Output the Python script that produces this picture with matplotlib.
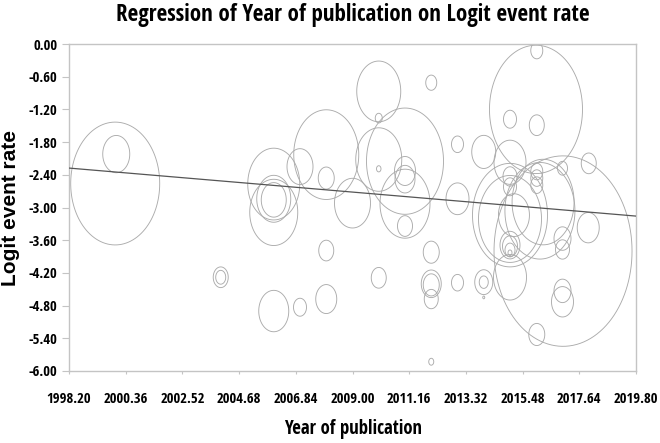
import os
import numpy as np
import matplotlib
matplotlib.use("Agg")
import matplotlib.pyplot as plt
from matplotlib.path import Path
from matplotlib.markers import MarkerStyle
from matplotlib import font_manager as fm
from matplotlib.textpath import TextToPath

# ---------------- data ----------------
years = [1999.96, 2000.00, 2003.98, 2003.98, 2006.00, 2006.00, 2006.00, 2006.00,
         2006.00, 2007.00, 2008.00, 2008.00, 2008.00, 2007.00, 2008.00, 2009.00,
         2010.00, 2010.00, 2010.00, 2010.00, 2011.00, 2011.00, 2011.00, 2011.00,
         2011.00, 2010.00, 2012.00, 2013.00, 2013.00, 2012.00, 2012.00, 2012.00,
         2012.00, 2013.00, 2012.00, 2014.00, 2014.00, 2014.00, 2014.00,
         2015.99, 2016.02, 2015.00, 2016.02, 2015.00, 2015.00, 2015.00, 2016.02,
         2016.02, 2016.02, 2017.00, 2018.00, 2017.98, 2017.02, 2015.00, 2015.00,
         2016.14, 2015.15, 2016.26, 2015.00, 2015.00, 2015.00, 2015.00, 2015.00,
         2017.00, 2017.00, 2017.00, 2017.00, 2016.02]
logit_rate = [-2.56, -2.02, -4.28, -4.28, -2.57, -3.09, -2.86, -2.84,
              -4.90, -4.83, -4.68, -3.79, -2.46, -2.25, -2.03, -2.92,
              -0.87, -1.36, -2.12, -2.29, -2.15, -2.33, -2.48, -2.93,
              -3.34, -4.29, -0.71, -1.84, -2.84, -3.82, -4.40, -4.42,
              -4.68, -4.38, -5.83, -1.98, -4.37, -4.37, -4.65,
              -1.20, -0.12, -1.38, -1.49, -2.17, -2.43, -2.62, -2.34,
              -2.46, -2.59, -2.28, -2.19, -3.37, -3.80, -3.14, -3.21,
              -3.06, -3.14, -2.90, -3.69, -3.71, -3.78, -3.83, -4.28,
              -3.57, -3.77, -4.53, -4.73, -5.33]
weights = [79.21, 7.29, 2.25, 1.00, 27.04, 23.04, 6.25, 11.56,
           9.00, 1.69, 4.41, 2.25, 2.56, 6.76, 42.25, 12.96,
           19.36, 0.49, 21.16, 0.20, 59.29, 4.41, 4.00, 25.00,
           2.25, 2.25, 1.21, 1.44, 5.29, 2.56, 4.00, 2.56,
           1.96, 1.44, 0.25, 5.76, 3.24, 0.81, 0.04,
           86.49, 1.44, 1.69, 2.25, 10.24, 1.96, 1.69, 1.44,
           1.44, 1.44, 1.00, 2.25, 4.84, 190.44, 56.25, 39.69,
           49.00, 9.61, 38.44, 4.00, 2.25, 1.00, 0.16, 10.89,
           2.89, 1.96, 2.89, 4.84, 2.56]

reg_intercept = 79.23
reg_slope = -0.04079

x_ticks = [1998.20, 2000.36, 2002.52, 2004.68, 2006.84, 2009.00,
           2011.16, 2013.32, 2015.48, 2017.64, 2019.80]
y_ticks = [0.00, -0.60, -1.20, -1.80, -2.40, -3.00, -3.60, -4.20, -4.80, -5.40, -6.00]

title = "Regression of Year of publication on Logit event rate"
x_label = "Year of publication"
y_label = "Logit event rate"

# ---------------- fonts ----------------
def find_condensed_bold():
    prefs = ["liberationsansnarrow-bold", "arialnarrow", "notosans-condensedbold",
             "opensans-condbold", "opensans_condensed-bold", "opensanscondensed-bold",
             "robotocondensed-bold", "roboto_condensed-bold"]
    files = {os.path.basename(f.fname).lower(): f.fname for f in fm.fontManager.ttflist}
    for p in prefs:
        for k, v in files.items():
            if k.startswith(p) and "italic" not in k:
                return v
    for k, v in files.items():
        if (("narrow" in k or "condensed" in k or "cond" in k) and "bold" in k
                and not any(b in k for b in ["italic", "oblique", "dejavu", "mono",
                                              "serif", "extra", "semi", "ultra"])):
            return v
    return None

cond_file = find_condensed_bold()
ttp = TextToPath()

def prop(size, fname=None, family=None):
    if fname:
        return fm.FontProperties(fname=fname, size=size)
    return fm.FontProperties(family=family or "Liberation Sans", weight="bold", size=size)

def fit(text, target_px, max_pt):
    p = prop(10, cond_file)
    w, h, d = ttp.get_text_width_height_descent(text, p, ismath=False)
    size = 10 * target_px / (w * 100 / 72)
    return prop(min(size, max_pt), cond_file)

tick_prop = fit("2004.68", 47, 10.5)
title_prop = fit(title, 475, 16.6)
xlab_prop = fit(x_label, 140, 13.5)
ylab_prop = prop(15, family="Liberation Sans")

# ---------------- figure ----------------
fig = plt.figure(figsize=(6.6, 4.43), dpi=100)
ax = fig.add_axes([69/660, 1-371/443, 567/660, 327/443])

# elliptical bubble marker (bubbles are stretched vertically in the reference)
t = np.linspace(0, 2*np.pi, 120)
verts = np.column_stack([np.cos(t)/1.38, np.sin(t)])
ell = MarkerStyle(Path(verts, closed=True))

sizes = np.array(weights) * 100 * (1.38*0.72)**2
ax.scatter(years, logit_rate, s=sizes, marker=ell, facecolors="none",
           edgecolors="#ababab", linewidths=0.65, zorder=2)

xl = np.array([x_ticks[0], x_ticks[-1]])
ax.plot(xl, reg_intercept + reg_slope*xl, color="#555555", lw=0.9, zorder=3)

ax.set_xlim(x_ticks[0], x_ticks[-1])
ax.set_ylim(y_ticks[-1], y_ticks[0])
ax.set_xticks(x_ticks)
ax.set_yticks(y_ticks)
ax.set_xticklabels([f"{v:.2f}" for v in x_ticks])
ax.set_yticklabels([f"{v:.2f}" for v in y_ticks])

for sp in ax.spines.values():
    sp.set_color("#c4c4c4")
    sp.set_linewidth(1.0)
ax.tick_params(axis="y", direction="out", length=5, width=0.8, color="#c4c4c4", pad=3.5)
ax.tick_params(axis="x", direction="out", length=2.5, width=0.8, color="#c4c4c4", pad=12.5)
for lab in ax.get_xticklabels() + ax.get_yticklabels():
    lab.set_fontproperties(tick_prop)

cx = (69 + 636) / 2 / 660
fig.text(cx, 1-21/443, title, ha="center", va="baseline", fontproperties=title_prop)
fig.text(cx, 1-434/443, x_label, ha="center", va="baseline", fontproperties=xlab_prop)
fig.text(11/660, 1-208/443, y_label, ha="center", va="center", rotation=90,
         fontproperties=ylab_prop)

fig.savefig("out.png", dpi=100)
